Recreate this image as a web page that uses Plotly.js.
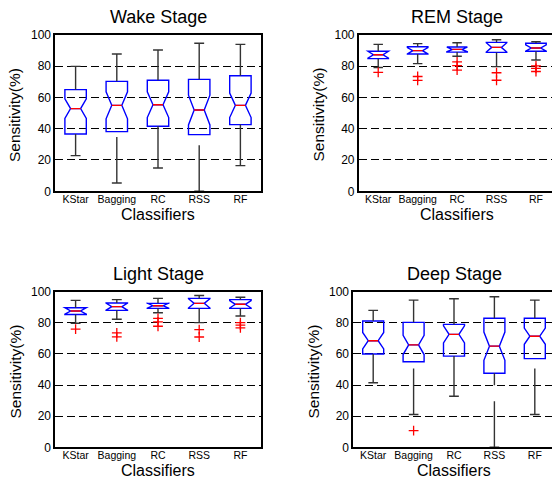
<!DOCTYPE html>
<html><head><meta charset="utf-8">
<script src="https://cdn.plot.ly/plotly-3.0.1.min.js"></script>
<style>html,body{margin:0;padding:0;overflow:hidden;background:#fff;} #chart{width:560px;height:479px;}</style>
</head><body><div id="chart"></div>
<script>
const classifiers = ['KStar', 'Bagging', 'RC', 'RSS', 'RF'];
const positions = [1, 2, 3, 4, 5];
const yTicks = [0, 20, 40, 60, 80, 100];

// Wake Stage
const wakeUpper   = [79.8, 87.7, 90.2, 94.5, 93.8];
const wakeQ3      = [64.9, 70.2, 70.9, 71.5, 73.8];
const wakeMedian  = [52.8, 54.9, 55.3, 51.9, 54.9];
const wakeQ1      = [36.6, 38.1, 41.5, 36.2, 42.6];
const wakeLower   = [22.8, 5.3, 14.9, 0, 16.4];
const wakeNotch   = [6.3, 8.6, 8.2, 9.5, 7.8];
const wakeOutliers = [[], [], [], [], []];

// REM Stage
const remUpper   = [93.8, 94.3, 94.9, 96.8, 95.5];
const remQ3      = [89.4, 92.3, 92.1, 95.1, 94.5];
const remMedian  = [87.2, 89.8, 90.6, 91.9, 91.5];
const remQ1      = [84.7, 87.7, 88.9, 88.7, 89.4];
const remLower   = [79.1, 81.5, 86.2, 79.6, 83.8];
const remNotch   = [2.2, 2.0, 1.5, 3.0, 2.0];
const remOutliers = [[76.0], [73.3, 70.8], [82.6, 80.2, 77.4], [75.7, 70.9], [80.1, 78.5, 76.5]];

// Light Stage
const lightUpper   = [94.4, 94.9, 95.7, 97.6, 96.4];
const lightQ3      = [89.7, 92.7, 92.5, 95.7, 94.9];
const lightMedian  = [87.6, 90.4, 91.0, 92.5, 91.9];
const lightQ1      = [85.3, 88.0, 89.3, 89.3, 89.3];
const lightLower   = [79.7, 82.3, 86.5, 80.1, 84.4];
const lightNotch   = [2.1, 2.2, 1.6, 3.0, 2.4];
const lightOutliers = [[76.0], [73.5, 71.0], [82.9, 80.6, 77.8], [75.6, 70.9], [80.1, 78.5, 76.7]];

// Deep Stage
const deepUpper   = [88.0, 94.6, 95.5, 96.8, 94.6];
const deepQ3      = [81.2, 80.3, 79.0, 82.9, 82.9];
const deepMedian  = [68.5, 65.8, 72.6, 65.0, 71.4];
const deepQ1      = [60.0, 55.0, 58.6, 47.6, 57.0];
const deepLower   = [41.5, 21.1, 32.8, 0, 21.1];
const deepNotch   = [5.3, 6.2, 5.5, 9.1, 5.2];
const deepOutliers = [[], [10.7], [], [], []];

const W = 560, H = 479;
const panels = [
  {title: 'Wake Stage',  up: wakeUpper,  q3: wakeQ3,  med: wakeMedian,  q1: wakeQ1,  lo: wakeLower,  notch: wakeNotch,  out: wakeOutliers,
   px: [55, 261], py: [34.7, 191.3]},
  {title: 'REM Stage',   up: remUpper,   q3: remQ3,   med: remMedian,   q1: remQ1,   lo: remLower,   notch: remNotch,   out: remOutliers,
   px: [358.5, 555.7], py: [34.7, 191.3]},
  {title: 'Light Stage', up: lightUpper, q3: lightQ3, med: lightMedian, q1: lightQ1, lo: lightLower, notch: lightNotch, out: lightOutliers,
   px: [55, 261], py: [291.7, 447.3]},
  {title: 'Deep Stage',  up: deepUpper,  q3: deepQ3,  med: deepMedian,  q1: deepQ1,  lo: deepLower,  notch: deepNotch,  out: deepOutliers,
   px: [353, 555], py: [291.7, 447.3]}
];

const FONT = 'Liberation Sans, Arial, Helvetica, sans-serif';
const BOXW = 0.52, CAPH = 0.12, NOTCHW = 0.265;
const MEDH = (BOXW / 2) * (1 - 2 * NOTCHW);
const traces = [];
const layout = {
  width: W, height: H, autosize: false,
  margin: {l: 0, r: 0, t: 0, b: 0},
  paper_bgcolor: '#fff', plot_bgcolor: '#fff',
  showlegend: false,
  font: {family: FONT, color: '#000'},
  annotations: []
};

panels.forEach((p, k) => {
  const n = k + 1;
  const xa = 'x' + (n === 1 ? '' : n), ya = 'y' + (n === 1 ? '' : n);
  const xk = 'xaxis' + (n === 1 ? '' : n), yk = 'yaxis' + (n === 1 ? '' : n);
  layout[xk] = {
    domain: [p.px[0] / W, p.px[1] / W], anchor: ya,
    range: [0.5, 5.5], tickmode: 'array', tickvals: positions, ticktext: classifiers,
    showgrid: false, zeroline: false, showline: true, mirror: true,
    linecolor: '#000', linewidth: 1.6, ticks: '', ticklabelstandoff: -3,
    tickfont: {size: 10.5, family: FONT, color: '#000'}, fixedrange: true
  };
  layout[yk] = {
    domain: [1 - p.py[1] / H, 1 - p.py[0] / H], anchor: xa,
    range: [0, 100], tickmode: 'array', tickvals: yTicks,
    showgrid: true, gridcolor: '#000', gridwidth: 1, griddash: '8px,4px',
    zeroline: false, showline: true, mirror: true,
    linecolor: '#000', linewidth: 1.6, ticks: '',
    tickfont: {size: 12, family: FONT, color: '#000'}, fixedrange: true
  };

  // black whiskers: upper solid lines and all caps
  const wx = [], wy = [];
  positions.forEach((x, i) => {
    wx.push(x, x, null); wy.push(p.q3[i], p.up[i], null);
    wx.push(x - CAPH, x + CAPH, null); wy.push(p.up[i], p.up[i], null);
    wx.push(x - CAPH, x + CAPH, null); wy.push(p.lo[i], p.lo[i], null);
  });
  traces.push({type: 'scatter', mode: 'lines', x: wx, y: wy, xaxis: xa, yaxis: ya,
    line: {color: '#333', width: 1.4}, hoverinfo: 'skip'});
  // lower whiskers (dashed, pattern starting at the whisker end)
  positions.forEach((x, i) => {
    traces.push({type: 'scatter', mode: 'lines', x: [x, x], y: [p.lo[i], p.q1[i]], xaxis: xa, yaxis: ya,
      line: {color: '#333', width: 1.4, dash: '46px,16px'}, hoverinfo: 'skip'});
  });

  // notched blue boxes
  traces.push({
    type: 'box', x: positions, q1: p.q1, median: p.med, q3: p.q3,
    lowerfence: p.q1, upperfence: p.q3, notched: true, notchspan: p.notch, notchwidth: NOTCHW,
    width: BOXW, whiskerwidth: 0, boxpoints: false,
    line: {color: '#0000ff', width: 1.4}, fillcolor: 'rgba(0,0,0,0)',
    xaxis: xa, yaxis: ya, hoverinfo: 'skip'
  });

  // red medians
  const mx = [], my = [];
  positions.forEach((x, i) => { mx.push(x - MEDH, x + MEDH, null); my.push(p.med[i], p.med[i], null); });
  traces.push({type: 'scatter', mode: 'lines', x: mx, y: my, xaxis: xa, yaxis: ya,
    line: {color: '#ff0000', width: 1.4}, hoverinfo: 'skip'});

  // outliers
  const ox = [], oy = [];
  positions.forEach((x, i) => { p.out[i].forEach(v => { ox.push(x); oy.push(v); }); });
  if (ox.length) {
    traces.push({type: 'scatter', mode: 'markers', x: ox, y: oy, xaxis: xa, yaxis: ya,
      marker: {symbol: 'cross-thin-open', size: 7, color: '#ff0000', line: {color: '#ff0000', width: 1.3}},
      hoverinfo: 'skip', cliponaxis: false});
  }

  const cx = (p.px[0] + p.px[1]) / 2;
  layout.annotations.push({xref: 'paper', yref: 'paper', x: cx / W, y: 1 - (p.py[0] - 17.5) / H,
    xanchor: 'center', yanchor: 'middle', showarrow: false, text: p.title,
    font: {size: 18, family: FONT, color: '#000'}});
  layout.annotations.push({xref: 'paper', yref: 'paper', x: (p.px[0] - 40) / W, y: 1 - ((p.py[0] + p.py[1]) / 2 + 2) / H,
    xanchor: 'center', yanchor: 'middle', showarrow: false, text: 'Sensitivity(%)', textangle: -90,
    font: {size: 15.5, family: FONT, color: '#000'}});
  layout.annotations.push({xref: 'paper', yref: 'paper', x: cx / W, y: 1 - (p.py[1] + 23) / H,
    xanchor: 'center', yanchor: 'middle', showarrow: false, text: 'Classifiers',
    font: {size: 16, family: FONT, color: '#000'}});
});

Plotly.newPlot('chart', traces, layout, {staticPlot: true, displayModeBar: false});
</script>
</body></html>
